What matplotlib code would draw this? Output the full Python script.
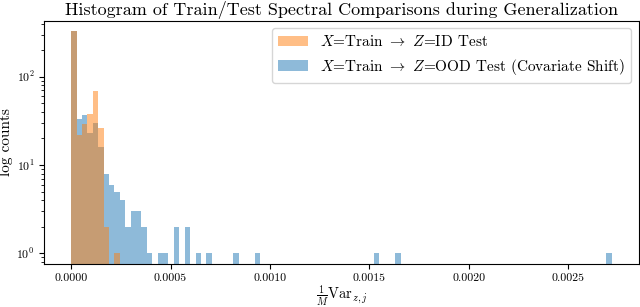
import numpy as np
import matplotlib
matplotlib.use("Agg")
import matplotlib.pyplot as plt
from matplotlib.ticker import FormatStrFormatter

plt.rcParams["font.family"] = "serif"
plt.rcParams["font.serif"] = ["cmr10", "DejaVu Serif"]
plt.rcParams["mathtext.fontset"] = "cm"
plt.rcParams["axes.formatter.use_mathtext"] = True

# histogram range and bin count (shared bins)
x_max = 0.00272
n_bins = 100

# counts per bin (bin index -> count)
id_counts = {0: 330, 1: 22, 2: 29, 3: 38, 4: 69, 5: 26, 6: 2, 8: 1}
ood_counts = {0: 330, 1: 33, 2: 37, 3: 23, 4: 30, 5: 16, 6: 8, 7: 6, 8: 5,
              9: 4, 10: 2, 11: 3, 12: 3, 13: 2, 14: 1, 16: 1, 17: 1, 19: 2,
              21: 2, 23: 1, 25: 1, 30: 1, 34: 1, 56: 1, 60: 1, 99: 1}

edges = np.linspace(0, x_max, n_bins + 1)
centers = (edges[:-1] + edges[1:]) / 2
id_w = np.zeros(n_bins)
ood_w = np.zeros(n_bins)
for k, v in id_counts.items():
    id_w[k] = v
for k, v in ood_counts.items():
    ood_w[k] = v

fig = plt.figure(figsize=(6.4, 3.07), dpi=100)
ax = fig.add_axes([0.069, 0.140, 0.929, 0.793])

ax.hist(centers, bins=edges, weights=ood_w, log=True, alpha=0.5,
        color="C0", label=r"$X$=Train $\rightarrow$ $Z$=OOD Test (Covariate Shift)")
ax.hist(centers, bins=edges, weights=id_w, log=True, alpha=0.5,
        color="C1", label=r"$X$=Train $\rightarrow$ $Z$=ID Test")

ax.set_xlim(-0.05 * x_max, 1.05 * x_max)
ax.set_ylim(0.757, 433)
ax.xaxis.set_major_formatter(FormatStrFormatter("%.4f"))
ax.set_xticks([0, 0.0005, 0.0010, 0.0015, 0.0020, 0.0025])
ax.tick_params(labelsize=8.5)

ax.set_title("Histogram of Train/Test Spectral Comparisons during Generalization",
             fontsize=13, pad=4)
ax.set_xlabel(r"$\frac{1}{M}\mathrm{Var}_{z,j}$", fontsize=10.5, labelpad=0)
ax.set_ylabel("log counts", fontsize=11, labelpad=2)

handles, labels = ax.get_legend_handles_labels()
ax.legend(handles[::-1], labels[::-1], loc="upper right", fontsize=11)

fig.savefig("out.png", dpi=100)
